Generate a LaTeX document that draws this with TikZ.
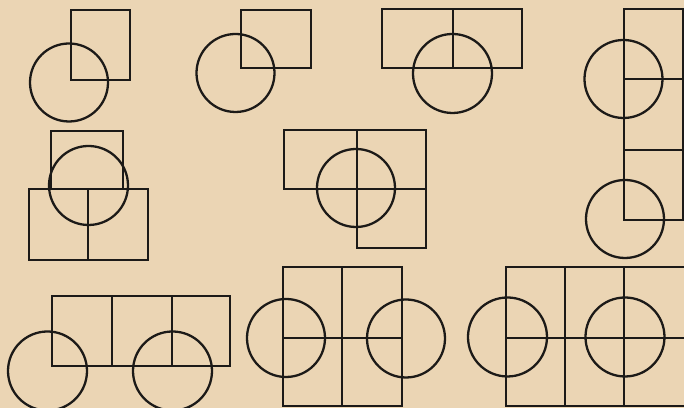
\documentclass[tikz,border=0pt]{standalone}
\usepackage{tikz}
\definecolor{paper}{RGB}{235,213,180}
\definecolor{ink}{RGB}{28,26,24}
\tikzset{
    frame/.style={draw=ink, line width=1.3pt, line join=miter},
    wheel/.style={draw=ink, line width=1.3pt}
}

\begin{document}
\begin{tikzpicture}[x=0.02cm, y=0.02cm]

% ── Paper ────────────────────────────────────────────────────────────────────
\useasboundingbox (0,0) rectangle (684,408);
\fill[paper] (0,0) rectangle (684,408);
\clip (0,0) rectangle (684,408);

% ── Row 1: one cell, one wheel ───────────────────────────────────────────────
\draw[frame] (71,328) rectangle (130,398);
\draw[wheel] (69,325.5) circle [radius=39];

\draw[frame] (241,340) rectangle (311,398);
\draw[wheel] (235.5,335) circle [radius=39];

% ── Row 1: two cells side by side ────────────────────────────────────────────
\draw[frame] (382,340) rectangle (522,399);
\draw[frame] (453,340) -- (453,399);
\draw[wheel] (452.5,334.5) circle [radius=39.5];

% ── Right column: tall strip, two wheels ─────────────────────────────────────
\draw[frame] (624,188) rectangle (683,399);
\foreach \y in {329,258}
    \draw[frame] (624,\y) -- (683,\y);
\draw[wheel] (623.5,329) circle [radius=39];
\draw[wheel] (625,189) circle [radius=39];

% ── Row 2: cell on top of two cells ──────────────────────────────────────────
\draw[frame] (51,219) rectangle (123,277);
\draw[frame] (29,148) rectangle (148,219);
\draw[frame] (88,148) -- (88,219);
\draw[wheel] (88.5,222.5) circle [radius=39.5];

% ── Row 2: three cells round a wheel ─────────────────────────────────────────
\draw[frame] (284,219) rectangle (426,278);
\draw[frame] (357,160) rectangle (426,219);
\draw[frame] (357,219) -- (357,278);
\draw[wheel] (356,220) circle [radius=39];

% ── Row 3: three cells, two wheels ───────────────────────────────────────────
\draw[frame] (52,42) rectangle (230,112);
\foreach \x in {112,172}
    \draw[frame] (\x,42) -- (\x,112);
\draw[wheel] (47.5,37) circle [radius=39.5];
\draw[wheel] (172.5,37) circle [radius=39.5];

% ── Row 3: two by two cells, two wheels ──────────────────────────────────────
\draw[frame] (283,2) rectangle (402,141);
\draw[frame] (342,2) -- (342,141);
\draw[frame] (283,70) -- (402,70);
\draw[wheel] (286,70) circle [radius=39];
\draw[wheel] (406,69.5) circle [radius=39];

% ── Row 3: three by two cells, two wheels ────────────────────────────────────
\draw[frame] (506,2) rectangle (690,141);
\foreach \x in {565,624}
    \draw[frame] (\x,2) -- (\x,141);
\draw[frame] (506,70) -- (690,70);
\draw[wheel] (507.5,71) circle [radius=39.5];
\draw[wheel] (625,71) circle [radius=39.5];

\end{tikzpicture}
\end{document}
